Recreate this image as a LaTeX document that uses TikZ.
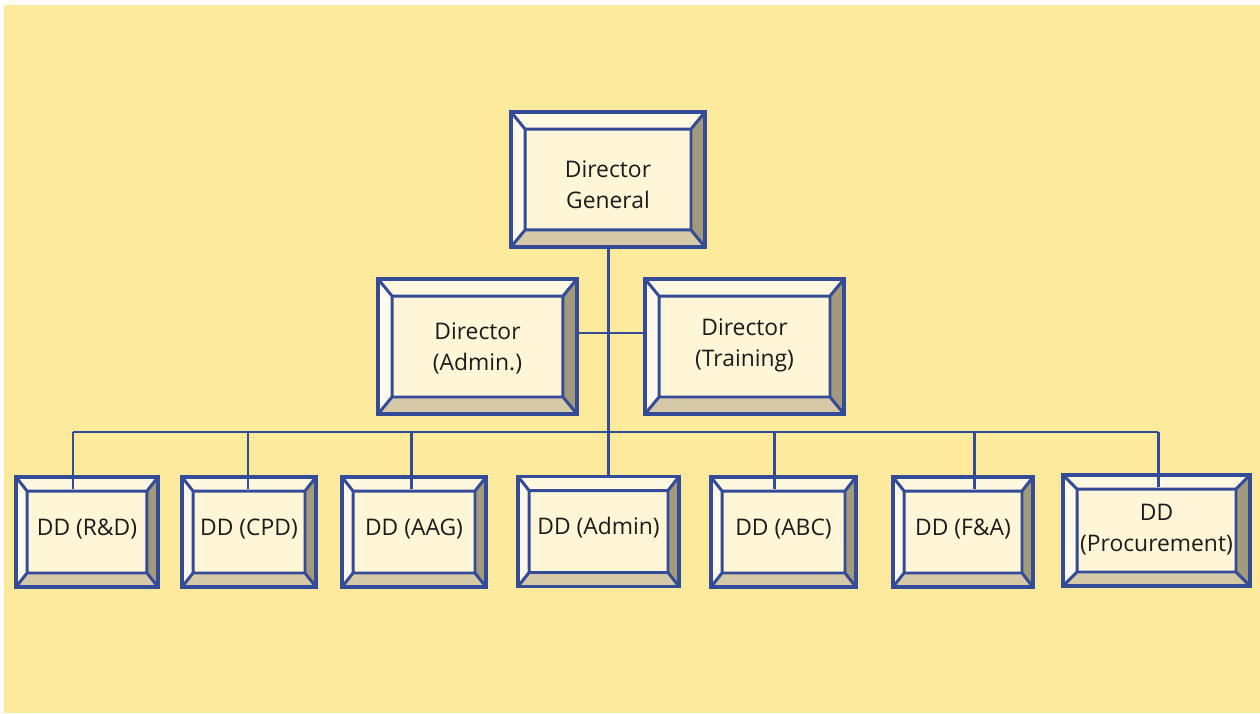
\documentclass[tikz,border=0pt]{standalone}
\usepackage{fontspec}
\setmainfont{Open Sans}

\definecolor{paper}{RGB}{253,234,156}
\definecolor{frame}{RGB}{52,75,152}
\definecolor{inner}{RGB}{255,245,215}
\definecolor{bevtop}{RGB}{255,248,225}
\definecolor{bevleft}{RGB}{255,250,236}
\definecolor{bevright}{RGB}{163,154,123}
\definecolor{bevbottom}{RGB}{213,201,168}
\definecolor{ink}{RGB}{30,26,27}

\newcommand\bevelpic[2]{%
  \coordinate (o1) at (path picture bounding box.north west);
  \coordinate (o2) at (path picture bounding box.north east);
  \coordinate (o3) at (path picture bounding box.south east);
  \coordinate (o4) at (path picture bounding box.south west);
  \coordinate (i1) at ([shift={(#1,-#2)}]o1);
  \coordinate (i2) at ([shift={(-#1,-#2)}]o2);
  \coordinate (i3) at ([shift={(-#1,#2)}]o3);
  \coordinate (i4) at ([shift={(#1,#2)}]o4);
  \fill[bevtop] (o1)--(o2)--(i2)--(i1)--cycle;
  \fill[bevright] (o2)--(o3)--(i3)--(i2)--cycle;
  \fill[bevbottom] (o3)--(o4)--(i4)--(i3)--cycle;
  \fill[bevleft] (o4)--(o1)--(i1)--(i4)--cycle;
  \draw[frame, line width=1.7pt] (o1)--(i1) (o2)--(i2) (o3)--(i3) (o4)--(i4)
    (i1)--(i2)--(i3)--(i4)--cycle;
}

\begin{document}
\begin{tikzpicture}[x=0.02cm, y=-0.02cm,
  box/.style n args={4}{draw=frame, line width=1.8pt, fill=inner, text=ink,
    align=center, inner sep=0pt, minimum width=#1, minimum height=#2,
    text depth=0pt, font=\fontsize{13}{17.6}\selectfont,
    path picture={\bevelpic{#3}{#4}}},
  dd/.style={box={#1}{2.20cm}{0.22cm}{0.28cm}, text height=3.7pt},
  link/.style={draw=frame, line width=1.7pt}]
  \fill[white] (0,0) rectangle (1260,713);
  \fill[paper] (4,5) rectangle (1260,713);

  \node[box={3.88cm}{2.70cm}{0.28cm}{0.34cm}, text height=33pt] (dg) at (608,179.5) {Director\\General};
  \node[box={3.98cm}{2.70cm}{0.28cm}{0.34cm}, text height=27pt] (adm) at (477.5,346.5) {Director\\(Admin.)};
  \node[box={3.98cm}{2.70cm}{0.28cm}{0.34cm}, text height=23pt] (trn) at (744.5,346.5) {Director\\(Training)};

  \node[dd=2.84cm] (rd) at (87,532) {DD (R\&D)};
  \node[dd=2.68cm] (cpd) at (249,532) {DD (CPD)};
  \node[dd=2.88cm] (aag) at (414,532) {DD (AAG)};
  \node[dd=3.22cm] (ad) at (598.5,531.5) {DD (Admin)};
  \node[dd=2.90cm] (abc) at (783.5,532) {DD (ABC)};
  \node[dd=2.80cm] (fa) at (963,532) {DD (F\&A)};
  \node[box={3.74cm}{2.22cm}{0.28cm}{0.28cm}, text height=23.5pt] (pro) at (1156.5,530.5) {DD\\(Procurement)};

  \coordinate (hub) at (608,333);
  \coordinate (b1) at (73,432);
  \coordinate (b2) at (248,432);
  \coordinate (b3) at (411,432);
  \coordinate (b5) at (774,432);
  \coordinate (b6) at (974,432);
  \coordinate (b7) at (1158,432);

  \draw[link] (dg.south) -- (dg.south |- ad.north);
  \draw[link] (adm.east |- hub) -- ([xshift=0.08cm]trn.west |- hub);
  \draw[link] (b1) -- (b7);
  \foreach \b/\n in {b1/rd, b2/cpd, b3/aag, b5/abc, b6/fa, b7/pro}
    \draw[link] (\b) -- ([yshift=-0.28cm]\b |- \n.north);
\end{tikzpicture}
\end{document}
